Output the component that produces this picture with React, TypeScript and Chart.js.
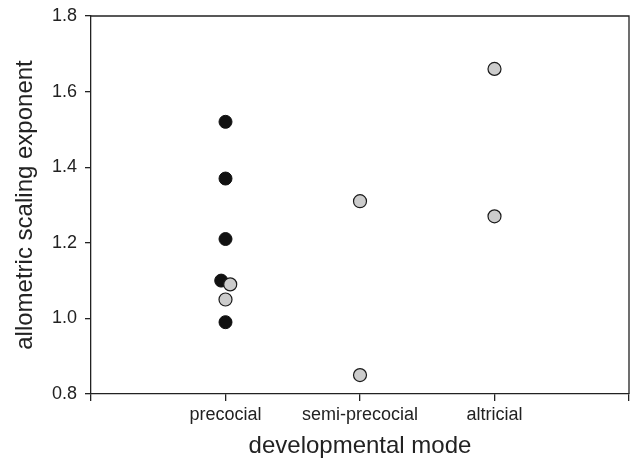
import React, { useEffect, useRef } from "react";
import { Chart, registerables } from "chart.js";

Chart.register(...registerables);

const categories = ["precocial", "semi-precocial", "altricial"];

// grey series (drawn on top)
const greyCategoryIndex = [0, 0, 1, 1, 2, 2];
const greyJitter = [0.035, 0, 0, 0, 0, 0];
const greyValues = [1.09, 1.05, 1.31, 0.85, 1.66, 1.27];

// black series
const blackCategoryIndex = [0, 0, 0, 0, 0];
const blackJitter = [0, 0, 0, -0.032, 0];
const blackValues = [1.52, 1.37, 1.21, 1.1, 0.99];

const yTicks = [0.8, 1.0, 1.2, 1.4, 1.6, 1.8];

const FONT = "'Liberation Sans', Arial, Helvetica, sans-serif";

const boxPlugin = {
  id: "boxFrame",
  afterDraw(chart: any) {
    const { ctx, chartArea } = chart;
    ctx.save();
    ctx.strokeStyle = "#222";
    ctx.lineWidth = 1.3;
    ctx.beginPath();
    ctx.moveTo(chartArea.left, chartArea.top);
    ctx.lineTo(chartArea.right, chartArea.top);
    ctx.lineTo(chartArea.right, chartArea.bottom);
    ctx.stroke();
    ctx.restore();
  },
};

export default function App() {
  const ref = useRef<HTMLCanvasElement>(null);

  useEffect(() => {
    document.body.style.margin = "0";
    const canvas = ref.current;
    if (!canvas) return;
    const toPoints = (cats: number[], jit: number[], vals: number[]) =>
      vals.map((v, i) => ({ x: cats[i] + 1 + jit[i], y: v }));

    const chart = new Chart(canvas, {
      type: "scatter",
      data: {
        datasets: [
          {
            label: "grey",
            data: toPoints(greyCategoryIndex, greyJitter, greyValues),
            backgroundColor: "#cccccc",
            borderColor: "#1a1a1a",
            borderWidth: 1.2,
            pointRadius: 6.5,
          },
          {
            label: "black",
            data: toPoints(blackCategoryIndex, blackJitter, blackValues),
            backgroundColor: "#111111",
            borderColor: "#111111",
            borderWidth: 1,
            pointRadius: 6.5,
          },
        ],
      },
      options: {
        responsive: false,
        animation: false,
        layout: { autoPadding: false, padding: { top: 16, right: 3, bottom: 0, left: 0 } },
        plugins: {
          legend: { display: false },
          tooltip: { enabled: false },
        },
        scales: {
          x: {
            type: "linear",
            min: 0,
            max: categories.length + 1,
            afterFit: (s: any) => {
              s.height = 67;
              s.paddingLeft = 0;
              s.paddingRight = 0;
            },
            afterBuildTicks: (s: any) => {
              s.ticks = [0, 1, 2, 3, 4].map((v) => ({ value: v }));
            },
            ticks: {
              callback: (v: any) => {
                const i = Math.round(Number(v)) - 1;
                return categories[i] ?? "";
              },
              color: "#222",
              font: { family: FONT, size: 18 },
              padding: 3,
              maxRotation: 0,
              autoSkip: false,
            },
            grid: {
              drawOnChartArea: false,
              drawTicks: true,
              tickLength: 7,
              color: "#222",
              lineWidth: 1.3,
            },
            border: { display: true, color: "#222", width: 1.3 },
            title: {
              display: true,
              text: "developmental mode",
              color: "#222",
              font: { family: FONT, size: 24 },
              padding: { top: 0, bottom: 0 },
            },
          },
          y: {
            type: "linear",
            min: 0.8,
            max: 1.8,
            afterFit: (s: any) => {
              s.width = 91;
              s.paddingTop = 0;
              s.paddingBottom = 0;
            },
            afterBuildTicks: (s: any) => {
              s.ticks = yTicks.map((v) => ({ value: v }));
            },
            ticks: {
              callback: (v: any) => Number(v).toFixed(1),
              color: "#222",
              font: { family: FONT, size: 18 },
              padding: 8,
            },
            grid: {
              drawOnChartArea: false,
              drawTicks: true,
              tickLength: 6,
              color: "#222",
              lineWidth: 1.3,
            },
            border: { display: true, color: "#222", width: 1.3 },
            title: {
              display: true,
              text: "allometric scaling exponent",
              color: "#222",
              font: { family: FONT, size: 24 },
              padding: { top: 11, bottom: 0 },
            },
          },
        },
      },
      plugins: [boxPlugin],
    });
    return () => chart.destroy();
  }, []);

  return <canvas ref={ref} width={632} height={461} style={{ display: "block" }} />;
}
